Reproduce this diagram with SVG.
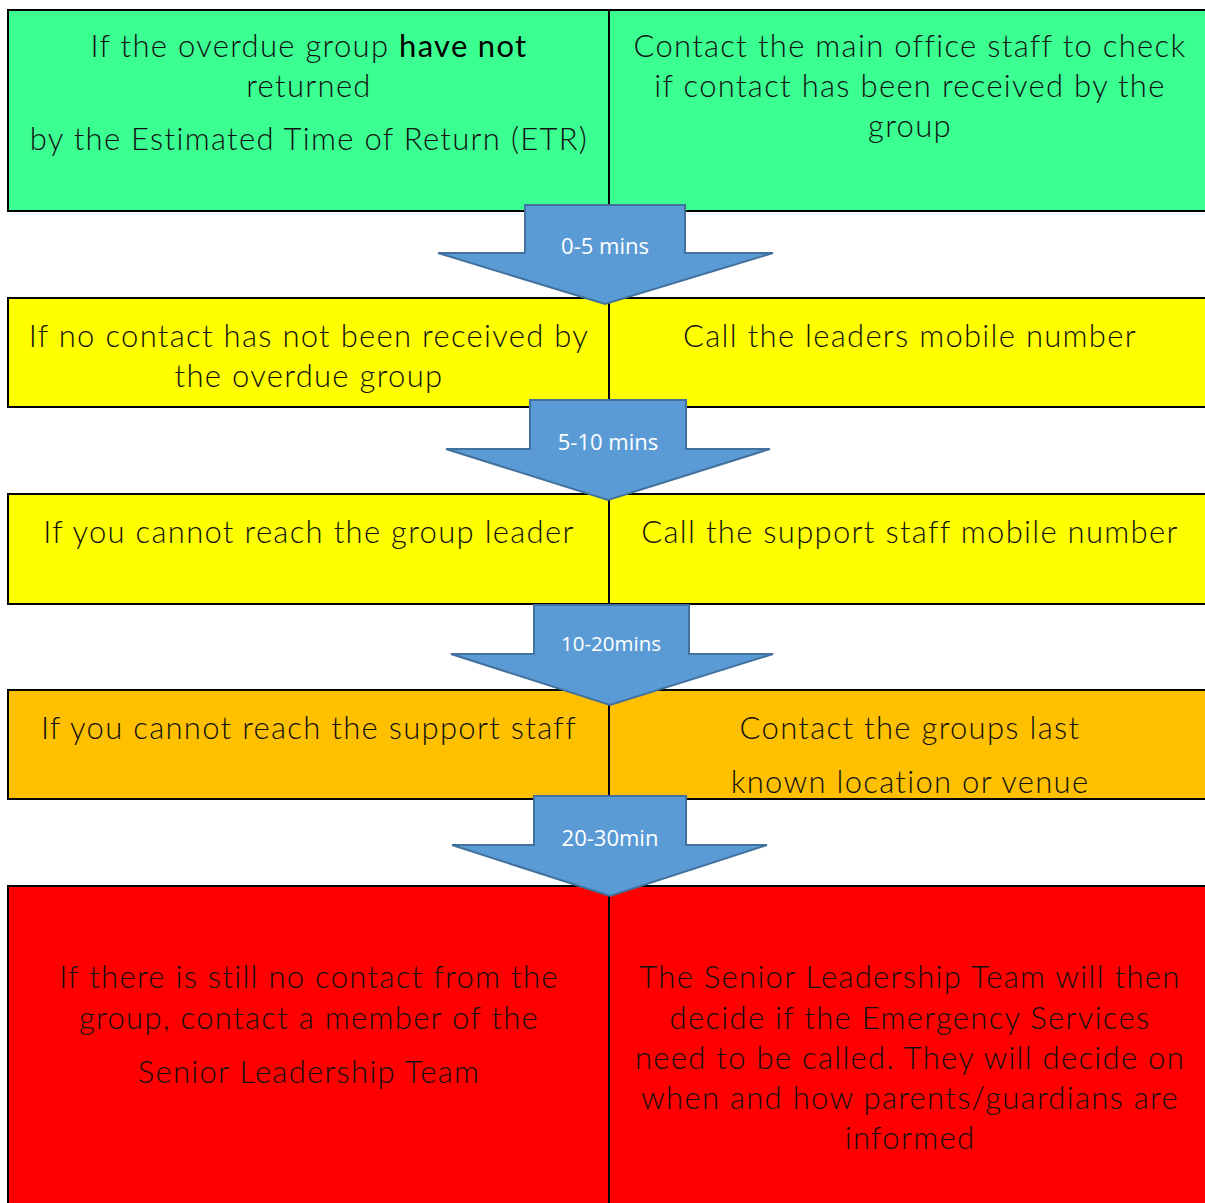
<svg xmlns="http://www.w3.org/2000/svg" width="1205" height="1203" viewBox="0 0 1205 1203">
<style>
.cell{stroke:#000;stroke-width:2}
.g{fill:#3BFF91}.y{fill:#FFFF00}.o{fill:#FFC000}.r{fill:#FF0000}
.t{font-family:Lato,"Open Sans",sans-serif;font-weight:300;font-size:31px;letter-spacing:1.3px;fill:#111;text-anchor:middle}
.b{font-weight:400;fill:#000}
.arr{fill:#5B9BD5;stroke:#41719C;stroke-width:2}
.al{font-family:"Open Sans","Liberation Sans",sans-serif;font-size:22px;fill:#fff;text-anchor:middle}
</style>
<rect width="1205" height="1203" fill="#fff"/>
<g id="row1">
<rect class="cell g" x="8" y="10" width="601" height="201"/>
<rect class="cell g" x="609" y="10" width="600" height="201"/>
<text class="t" x="309" y="57">If the overdue group <tspan class="b">have not</tspan></text>
<text class="t" x="309" y="97">returned</text>
<text class="t" x="309" y="150">by the Estimated Time of Return (ETR)</text>
<text class="t" x="910" y="57">Contact the main office staff to check</text>
<text class="t" x="910" y="97">if contact has been received by the</text>
<text class="t" x="910" y="137">group</text>
</g>
<g id="row2">
<rect class="cell y" x="8" y="298" width="601" height="109"/>
<rect class="cell y" x="609" y="298" width="600" height="109"/>
<text class="t" x="309" y="347">If no contact has not been received by</text>
<text class="t" x="309" y="387">the overdue group</text>
<text class="t" x="910" y="347">Call the leaders mobile number</text>
</g>
<g id="row3">
<rect class="cell y" x="8" y="494" width="601" height="110"/>
<rect class="cell y" x="609" y="494" width="600" height="110"/>
<text class="t" x="309" y="543">If you cannot reach the group leader</text>
<text class="t" x="910" y="543">Call the support staff mobile number</text>
</g>
<g id="row4">
<rect class="cell o" x="8" y="690" width="601" height="109"/>
<rect class="cell o" x="609" y="690" width="600" height="109"/>
<text class="t" x="309" y="739">If you cannot reach the support staff</text>
<text class="t" x="910" y="739">Contact the groups last</text>
<text class="t" x="910" y="793">known location or venue</text>
</g>
<g id="row5">
<rect class="cell r" x="8" y="886" width="601" height="330"/>
<rect class="cell r" x="609" y="886" width="600" height="330"/>
<text class="t" x="309" y="988">If there is still no contact from the</text>
<text class="t" x="309" y="1029">group, contact a member of the</text>
<text class="t" x="309" y="1083">Senior Leadership Team</text>
<text class="t" x="910" y="988">The Senior Leadership Team will then</text>
<text class="t" x="910" y="1029">decide if the Emergency Services</text>
<text class="t" x="910" y="1069">need to be called. They will decide on</text>
<text class="t" x="910" y="1109">when and how parents/guardians are</text>
<text class="t" x="910" y="1149">informed</text>
</g>
<g id="connectors">
<g id="arrow1"><polygon class="arr" points="525,205 685,205 685,253 773,253 605,304 438,253 525,253"/><text class="al" x="605" y="254">0-5 mins</text></g>
<g id="arrow2"><polygon class="arr" points="530,400 686,400 686,449 770,449 608,500 446,449 530,449"/><text class="al" x="608" y="450">5-10 mins</text></g>
<g id="arrow3"><polygon class="arr" points="534,605 689,605 689,654 773,654 610,705 451,654 534,654"/><text class="al" x="611" y="651" style="font-size:20.5px">10-20mins</text></g>
<g id="arrow4"><polygon class="arr" points="534,796 686,796 686,845 767,845 610,896 452,845 534,845"/><text class="al" x="610" y="846">20-30min</text></g>
</g>
</svg>
